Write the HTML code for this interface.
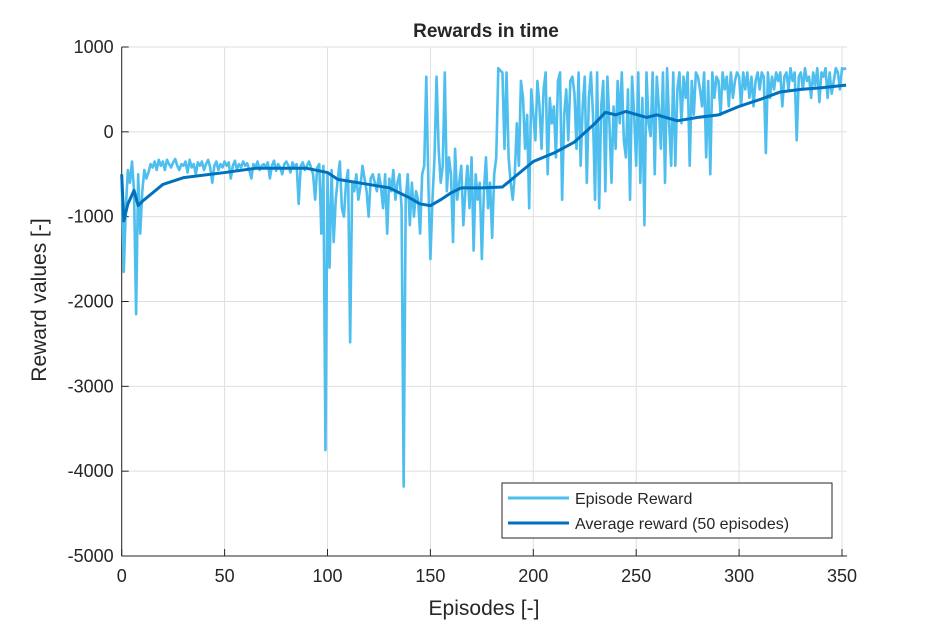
<!DOCTYPE html>
<html><head><meta charset="utf-8"><style>
body{margin:0;background:#fff;}
svg text{font-family:"Liberation Sans",sans-serif;fill:#262626;}
</style></head><body>
<svg id="chart" width="938" height="625" xmlns="http://www.w3.org/2000/svg"></svg>
<script>
const episodeReward=[-500,-1650,-900,-450,-600,-350,-700,-2150,-500,-1200,
-700,-450,-550,-480,-380,-420,-350,-450,-330,-400,
-350,-450,-330,-380,-420,-360,-320,-400,-450,-380,
-400,-350,-480,-330,-420,-380,-500,-360,-400,-350,
-450,-380,-330,-420,-600,-400,-350,-450,-380,-420,
-350,-400,-360,-550,-400,-340,-450,-380,-420,-350,
-400,-370,-450,-550,-380,-420,-350,-450,-400,-380,
-420,-360,-550,-400,-340,-460,-380,-420,-500,-380,
-350,-400,-480,-360,-420,-380,-850,-400,-360,-450,
-400,-350,-420,-500,-800,-420,-380,-1200,-400,-3750,
-500,-1600,-450,-1300,-800,-550,-350,-900,-1000,-600,
-450,-2480,-600,-700,-500,-800,-650,-400,-550,-700,
-1000,-550,-500,-600,-700,-500,-650,-900,-500,-1200,
-550,-700,-450,-800,-600,-500,-900,-4180,-800,-500,
-1100,-600,-1000,-700,-800,-1200,-500,-400,650,-600,
-1500,-800,-300,650,-200,-600,-400,700,-700,-300,
-500,-1300,-200,-800,-600,-400,-1100,-700,-400,-900,
-300,-1400,-500,-800,-600,-1500,-700,-300,-900,-600,
-1250,-500,-300,750,720,700,-200,700,-300,-600,
-800,-500,100,-400,600,400,-200,200,-900,500,
200,-100,600,300,-200,500,700,-500,400,100,
300,-300,600,700,-800,200,500,-100,600,650,
450,-200,700,-400,300,650,-600,400,700,200,
-800,700,-900,300,600,-700,650,100,-600,300,
-200,600,100,700,-100,-300,500,-800,650,200,
-400,700,-600,400,-1100,700,100,-50,700,-500,
650,300,-200,700,-600,750,100,-400,700,-400,
500,700,100,650,400,700,-400,600,200,700,
650,500,300,700,-300,600,-500,700,400,650,
600,200,700,500,650,300,700,400,600,700,
650,300,700,500,700,400,650,300,600,700,
500,700,650,-250,700,400,650,500,700,600,
700,300,650,700,500,750,600,700,-100,650,
700,500,750,600,650,400,700,550,750,350,
700,650,750,400,700,450,600,750,700,500,
750,740,750];
const avgEpisodes=[0,1,3,6,8,10,20,30,50,65,90,100,105,120,130,140,145,150,155,160,165,175,185,190,200,210,220,230,235,240,245,255,260,270,280,290,300,310,320,330,340,352];
const avgReward=[-500,-1050,-850,-690,-870,-820,-620,-540,-480,-430,-430,-480,-560,-620,-660,-780,-850,-870,-800,-720,-660,-660,-650,-550,-350,-250,-120,100,230,200,240,170,200,130,170,200,300,380,470,500,520,550];
const xTicks=[0,50,100,150,200,250,300,350];
const yTicks=[1000,0,-1000,-2000,-3000,-4000,-5000];

const svg=document.getElementById('chart');
const NS='http://www.w3.org/2000/svg';
const L=121.7,T=47,B=556,R=847;
const xS=v=>L+v*2.058;
const yS=v=>T+(1000-v)*(B-T)/6000;
function mk(tag,attrs,parent){const e=document.createElementNS(NS,tag);for(const k in attrs)e.setAttribute(k,attrs[k]);(parent||svg).appendChild(e);return e;}

const grid=mk('g',{});


xTicks.forEach(t=>{mk('line',{x1:xS(t),x2:xS(t),y1:T,y2:B,stroke:'#dfdfdf','stroke-width':1},grid);});
yTicks.forEach(t=>{mk('line',{x1:L,x2:R,y1:yS(t),y2:yS(t),stroke:'#dfdfdf','stroke-width':1},grid);});

const ax=mk('g',{});


mk('line',{x1:L,x2:R,y1:B,y2:B,stroke:'#262626','stroke-width':1},ax);
mk('line',{x1:L,x2:L,y1:T,y2:B,stroke:'#262626','stroke-width':1},ax);
xTicks.forEach(t=>{
  mk('line',{x1:xS(t),x2:xS(t),y1:B,y2:B-7,stroke:'#262626'},ax);
  const tx=mk('text',{x:xS(t),y:B+26,'text-anchor':'middle','font-size':18},ax);
  tx.textContent=t;
  
  
});
yTicks.forEach(t=>{
  mk('line',{x1:L,x2:L+7,y1:yS(t),y2:yS(t),stroke:'#262626'},ax);
  const tx=mk('text',{x:L-8,y:yS(t)+6,'text-anchor':'end','font-size':18},ax);
  tx.textContent=t;
  
  
});

const p1=mk('polyline',{points:episodeReward.map((v,i)=>xS(i)+','+yS(v)).join(' '),fill:'none',stroke:'#4dbeee','stroke-width':2.6,'stroke-linejoin':'round'});


const p2=mk('polyline',{points:avgReward.map((v,i)=>xS(avgEpisodes[i])+','+yS(v)).join(' '),fill:'none',stroke:'#0072bd','stroke-width':3,'stroke-linejoin':'round'});



const title=mk('text',{x:486,y:37,'text-anchor':'middle','font-size':19,'font-weight':'bold'});
title.textContent='Rewards in time';


title.setAttribute('fill','#000');
const xt=mk('text',{x:484,y:615,'text-anchor':'middle','font-size':21});
xt.textContent='Episodes [-]';


const yt=mk('text',{x:46,y:300,'text-anchor':'middle','font-size':21,transform:'rotate(-90 46 300)'});
yt.textContent='Reward values [-]';



const lg=mk('g',{});


mk('rect',{x:502,y:483,width:330,height:55,fill:'#fff',stroke:'#262626','stroke-width':1},lg);
mk('line',{x1:508,x2:569,y1:498,y2:498,stroke:'#4dbeee','stroke-width':3},lg);
mk('line',{x1:508,x2:569,y1:523,y2:523,stroke:'#0072bd','stroke-width':3},lg);
const l1=mk('text',{x:575,y:504,'font-size':16},lg);
l1.textContent='Episode Reward';


const l2=mk('text',{x:575,y:529,'font-size':16},lg);
l2.textContent='Average reward (50 episodes)';


</script>
</body></html>
